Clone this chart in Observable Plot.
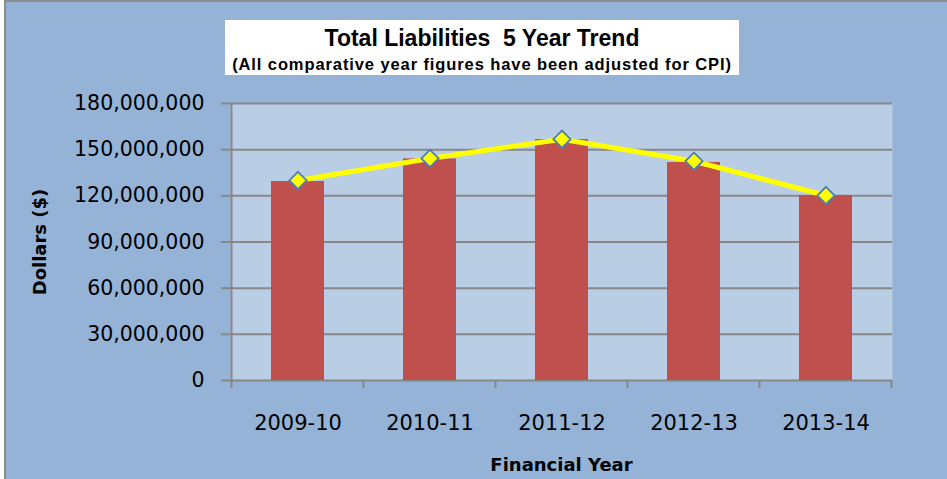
<!DOCTYPE html>
<html>
<head>
<meta charset="utf-8">
<script src="https://cdn.jsdelivr.net/npm/d3@7"></script>
<script src="https://cdn.jsdelivr.net/npm/@observablehq/plot@0.6"></script>
<style>
  body { margin: 0; background: #fff; }
  #wrap { position: relative; width: 947px; height: 479px; overflow: hidden; }
  #bg { position: absolute; left: 4px; top: 0; width: 980px; height: 500px; background: #95B3D7;
        border-left: 2px solid #8c8c8c; border-top: 2px solid #8c8c8c; }
  #titlebox { position: absolute; left: 225px; top: 20px; width: 514px; height: 55px; background: #fff;
        text-align: center; font-family: "Liberation Sans", Arial, sans-serif; font-weight: bold; color: #000; }
  #t1 { position: absolute; left: 0; right: 0; top: 5px; font-size: 23px; white-space: pre; line-height: 26px; }
  #t2 { position: absolute; left: 0; right: 0; top: 34px; font-size: 16.5px; letter-spacing: 0.9px; white-space: pre; line-height: 20px; }
  #chart { position: absolute; left: 0; top: 0; }
</style>
</head>
<body>
<div id="wrap">
  <div id="bg"></div>
  <div id="titlebox">
    <div id="t1">Total Liabilities  5 Year Trend</div>
    <div id="t2">(All comparative year figures have been adjusted for CPI)</div>
  </div>
  <div id="chart"></div>
</div>
<script>
const years = ["2009-10", "2010-11", "2011-12", "2012-13", "2013-14"];
const barValues = [129.3e6, 144.0e6, 156.6e6, 141.7e6, 120.2e6];
const lineValues = [130.0e6, 144.3e6, 156.8e6, 142.5e6, 120.2e6];
const yTicks = [0, 30e6, 60e6, 90e6, 120e6, 150e6, 180e6];
const yTitle = "Dollars ($)";
const xTitle = "Financial Year";

const bars = years.map((year, i) => ({year, value: barValues[i]}));
const points = years.map((year, i) => ({year, value: lineValues[i]}));

const grey = "#878787";

const chart = Plot.plot({
  width: 947,
  height: 479,
  marginLeft: 230,
  marginRight: 55,
  marginTop: 103,
  marginBottom: 99,
  style: {background: "transparent", fontFamily: "DejaVu Sans", color: "#000", overflow: "visible"},
  x: {type: "band", domain: years, paddingInner: 0.6, paddingOuter: 0.3, align: 0.5},
  y: {domain: [0, 180e6]},
  marks: [
    Plot.frame({fill: "#B9CDE5", stroke: null}),
    Plot.gridY(yTicks, {stroke: grey, strokeOpacity: 1, strokeWidth: 2}),
    Plot.barY(bars, {x: "year", y: "value", fill: "#C0504D"}),
    Plot.lineY(points, {x: "year", y: "value", stroke: "#FFFF00", strokeWidth: 5}),
    Plot.dot(points, {x: "year", y: "value", symbol: "diamond2", r: 7.8, fill: "#FFFF00", stroke: "#4A7EBB", strokeWidth: 1.8}),
    Plot.axisY({ticks: yTicks, tickFormat: d3.format(","), tickSize: 9, tickPadding: 17,
      stroke: grey, strokeWidth: 2, strokeOpacity: 1, fontSize: 20.5, label: null}),
    Plot.axisX({tickSize: 0, tickPadding: 35, fontSize: 21, label: null}),
    Plot.text([yTitle], {text: d => d, frameAnchor: "left", rotate: -90, dx: -190,
      textAnchor: "middle", lineAnchor: "middle", fontSize: 18, fontWeight: "bold", fill: "#000"}),
    Plot.text([xTitle], {text: d => d, frameAnchor: "bottom", dy: 85,
      textAnchor: "middle", lineAnchor: "middle", fontSize: 18, fontWeight: "bold", fill: "#000"})
  ]
});

// Excel-style axis line and category boundary ticks, positioned from Plot's scales
const sx = chart.scale("x"), sy = chart.scale("y");
const svg = d3.select(chart);
const yTop = sy.apply(180e6), yBot = sy.apply(0);
const gap = (sx.step - sx.bandwidth) / 2;
const bounds = years.map(d => sx.apply(d) - gap);
bounds.push(sx.apply(years[years.length - 1]) + sx.bandwidth + gap);
const g = svg.append("g").attr("stroke", grey).attr("stroke-width", 2);
g.append("line").attr("x1", bounds[0]).attr("x2", bounds[0]).attr("y1", yTop).attr("y2", yBot + 8);
g.selectAll("line.tk").data(bounds.slice(1)).join("line").attr("class", "tk")
  .attr("x1", d => d).attr("x2", d => d).attr("y1", yBot).attr("y2", yBot + 8);
svg.selectAll('g[aria-label="line"], g[aria-label="dot"]').raise();

document.getElementById("chart").appendChild(chart);
</script>
</body>
</html>
